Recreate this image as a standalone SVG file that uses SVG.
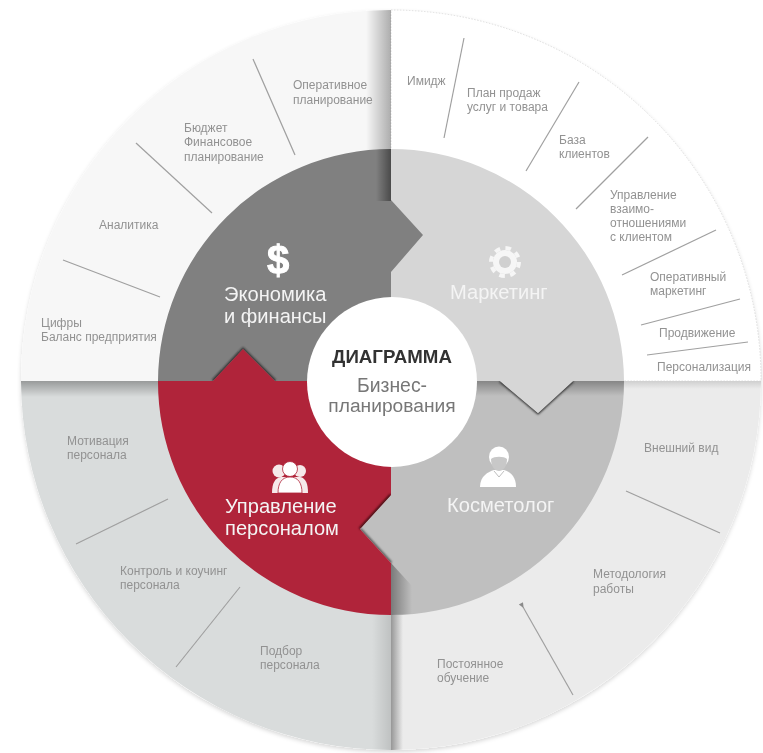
<svg xmlns="http://www.w3.org/2000/svg" width="763" height="753" viewBox="0 0 763 753">
<style>
text{font-family:"Liberation Sans",Arial,sans-serif}
.s{font-size:12px;fill:#929292;filter:url(#soft)}
.b{font-size:20.1px;fill:#f4f4f4;filter:url(#soft)}
.c{stroke:#a0a0a0;stroke-width:1.2;fill:none;filter:url(#soft)}
</style>
<defs>
<filter id="soft" x="-10%" y="-20%" width="120%" height="140%"><feGaussianBlur stdDeviation="0.5"/></filter>
<filter id="blur1" x="-30%" y="-30%" width="160%" height="160%"><feGaussianBlur stdDeviation="1.1"/></filter>
<filter id="disc" x="-5%" y="-5%" width="110%" height="110%"><feDropShadow dx="0" dy="2" stdDeviation="2" flood-color="#000" flood-opacity=".16"/></filter>
<linearGradient id="toR" x1="0" x2="1" y1="0" y2="0"><stop offset="0" stop-color="#000" stop-opacity="0"/><stop offset="1" stop-color="#000" stop-opacity=".3"/></linearGradient>
<linearGradient id="toD" x1="0" x2="1" y1="0" y2="0"><stop offset="0" stop-color="#000" stop-opacity="0"/><stop offset="1" stop-color="#000" stop-opacity=".42"/></linearGradient>
<linearGradient id="toRs" x1="0" x2="1" y1="0" y2="0"><stop offset="0" stop-color="#000" stop-opacity="0"/><stop offset="1" stop-color="#000" stop-opacity=".12"/></linearGradient>
<linearGradient id="fromL" x1="0" x2="1" y1="0" y2="0"><stop offset="0" stop-color="#000" stop-opacity=".36"/><stop offset="1" stop-color="#000" stop-opacity="0"/></linearGradient>
<linearGradient id="fromT" x1="0" x2="0" y1="0" y2="1"><stop offset="0" stop-color="#000" stop-opacity=".3"/><stop offset="1" stop-color="#000" stop-opacity="0"/></linearGradient>
<marker id="tip" markerWidth="5" markerHeight="5" refX="1" refY="2.5" orient="auto-start-reverse"><path d="M0 2.5L4.5 0.5V4.5Z" fill="#8a8a8a"/></marker>
<clipPath id="qTL"><path d="M21 381A370 370 0 0 1 391 10V381Z"/></clipPath>
<clipPath id="qBL"><path d="M21 381H391V750A370 370 0 0 1 21 381Z"/></clipPath>
<clipPath id="qBR"><path d="M391 381H761A370 370 0 0 1 391 750Z"/></clipPath>
<clipPath id="iDark"><path d="M158 381A233 233 0 0 1 391 149V200L423 235L391 272V381H275L243 349L213 381Z"/></clipPath>
<clipPath id="iCos"><path d="M624 381A233 233 0 0 1 391 615V563L360 529L391 495V381H500L538 413L573 381Z"/></clipPath>
<clipPath id="iRed"><path d="M391 615A233 233 0 0 1 158 381H213L243 349L275 381H391V495L360 529L391 563Z"/></clipPath>
</defs>

<g id="outer-ring">
<circle cx="391" cy="380" r="370" fill="#fff" filter="url(#disc)"/>
<path d="M21 381A370 370 0 0 1 391 10V381Z" fill="#f7f7f7"/>
<path d="M391 10A370 370 0 0 1 761 381H391Z" fill="#fff" stroke="#d6d6d6" stroke-width=".8" stroke-dasharray="1.5 1.5"/>
<path d="M761 381A370 370 0 0 1 391 750V381Z" fill="#ebebeb"/>
<path d="M391 750A370 370 0 0 1 21 381H391Z" fill="#d9dcdc"/>
<g clip-path="url(#qTL)"><rect x="366" y="10" width="25" height="140" fill="url(#toR)"/></g>
<g clip-path="url(#qBL)"><rect x="21" y="381" width="140" height="16" fill="url(#fromT)"/><rect x="372" y="615" width="19" height="135" fill="url(#toRs)"/></g>
<g clip-path="url(#qBR)"><rect x="391" y="615" width="12" height="135" fill="url(#fromL)"/><rect x="624" y="381" width="140" height="8" fill="url(#fromT)" opacity=".4"/></g>
</g>

<g id="connectors">
<path class="c" d="M253 59L295 155"/>
<path class="c" d="M136 143L212 213"/>
<path class="c" d="M63 260L160 297"/>
<path class="c" d="M464 38L444 138"/>
<path class="c" d="M579 82L526 171"/>
<path class="c" d="M648 137L576 209"/>
<path class="c" d="M716 230L622 275"/>
<path class="c" d="M740 299L641 325"/>
<path class="c" d="M748 342L647 355"/>
<path class="c" d="M168 499L76 544"/>
<path class="c" d="M240 587L176 667"/>
<path class="c" d="M626 491L720 533"/>
<path class="c" d="M573 695L523 607" marker-end="url(#tip)"/>
</g>

<g id="labels">
<text class="s" x="293" y="89">Оперативное</text><text class="s" x="293" y="104">планирование</text>
<text class="s" x="184" y="132">Бюджет</text><text class="s" x="184" y="146">Финансовое</text><text class="s" x="184" y="161">планирование</text>
<text class="s" x="99" y="229">Аналитика</text>
<text class="s" x="41" y="327">Цифры</text><text class="s" x="41" y="341">Баланс предприятия</text>
<text class="s" x="407" y="85">Имидж</text>
<text class="s" x="467" y="97">План продаж</text><text class="s" x="467" y="111">услуг и товара</text>
<text class="s" x="559" y="144">База</text><text class="s" x="559" y="158">клиентов</text>
<text class="s" x="610" y="199">Управление</text><text class="s" x="610" y="213">взаимо-</text><text class="s" x="610" y="227">отношениями</text><text class="s" x="610" y="241">с клиентом</text>
<text class="s" x="650" y="281">Оперативный</text><text class="s" x="650" y="295">маркетинг</text>
<text class="s" x="659" y="337">Продвижение</text>
<text class="s" x="657" y="371">Персонализация</text>
<text class="s" x="644" y="452">Внешний вид</text>
<text class="s" x="593" y="578">Методология</text><text class="s" x="593" y="593">работы</text>
<text class="s" x="437" y="668">Постоянное</text><text class="s" x="437" y="682">обучение</text>
<text class="s" x="67" y="445">Мотивация</text><text class="s" x="67" y="459">персонала</text>
<text class="s" x="120" y="575">Контроль и коучинг</text><text class="s" x="120" y="589">персонала</text>
<text class="s" x="260" y="655">Подбор</text><text class="s" x="260" y="669">персонала</text>
</g>

<g id="node-cosmetolog">
<path d="M624 381A233 233 0 0 1 391 615V563L360 529L391 495V381Z" fill="#bfbfbf"/>
<g clip-path="url(#iCos)">
<rect x="391" y="381" width="233" height="15" fill="url(#fromT)"/>
<path d="M391 563L412 586V617H391Z" fill="url(#fromL)"/>
<path d="M500 381L538 413L573 381" fill="none" stroke="#333" stroke-width="2.6" filter="url(#blur1)"/>
<path d="M360 529L391 563" fill="none" stroke="#555" stroke-width="3" filter="url(#blur1)"/>
</g>
<g filter="url(#soft)">
<ellipse cx="499" cy="457" rx="10" ry="10.5" fill="#fff"/>
<path d="M480 487C480 476 488 472 494 470H504C510 472 516 476 516 487Z" fill="#fff"/>
</g>
<path d="M491 459C494 456 504 456 507 459C507 467 503 471 499 471C495 471 491 467 491 459Z" fill="#c8c8c8"/>
<path d="M494 471L499 477L504 471" fill="none" stroke="#bfbfbf" stroke-width="1"/>
<text class="b" x="447" y="512">Косметолог</text>
</g>

<g id="node-marketing">
<path d="M391 149A233 233 0 0 1 624 381H573L538 413L500 381H391Z" fill="#d6d6d6"/>
<g filter="url(#soft)">
<circle cx="505" cy="262" r="12" fill="#f6f6f6"/>
<circle cx="505" cy="262" r="14" fill="none" stroke="#f6f6f6" stroke-width="4" stroke-dasharray="5.6 5.4"/>
<circle cx="505" cy="262" r="6" fill="#d0d0d0"/>
</g>
<text class="b" x="450" y="299">Маркетинг</text>
</g>

<g id="node-economy">
<path d="M158 381A233 233 0 0 1 391 149V200L423 235L391 272V381Z" fill="#808080"/>
<g clip-path="url(#iDark)">
<rect x="376" y="149" width="15" height="52" fill="url(#toD)"/>
<path d="M213 381L243 349L275 381" fill="none" stroke="#222" stroke-width="2.6" filter="url(#blur1)"/>
</g>
<text x="267" y="274" font-size="40" font-weight="700" fill="#fff" stroke="#fff" stroke-width="1" filter="url(#soft)">$</text>
<text class="b" x="224" y="301">Экономика</text>
<text class="b" x="224" y="323">и финансы</text>
</g>

<g id="node-personnel">
<path d="M391 615A233 233 0 0 1 158 381H213L243 349L275 381H391V495L360 529L391 563Z" fill="#b0243a"/>
<g clip-path="url(#iRed)">
<path d="M391 495L360 529" fill="none" stroke="#3a0a12" stroke-width="3" filter="url(#blur1)"/>
</g>
<g filter="url(#soft)">
<circle cx="279" cy="471" r="6.5" fill="#f6e9ea"/><circle cx="300" cy="471" r="6" fill="#f6e9ea"/>
<path d="M272 493C272 483 275 478 281 477H300C306 478 308 484 308 493Z" fill="#f6e9ea"/>
<circle cx="290" cy="469" r="7.5" fill="#fff" stroke="#b0243a" stroke-width=".8"/>
<path d="M278 493C278 483 282 477 290 477C298 477 302 483 302 493Z" fill="#fff" stroke="#b0243a" stroke-width=".8"/>
</g>
<text class="b" x="225" y="513">Управление</text>
<text class="b" x="225" y="535">персоналом</text>
</g>

<g id="node-center">
<circle cx="392" cy="382" r="85" fill="#fff"/>
<text x="392" y="363" text-anchor="middle" font-size="18.7" font-weight="700" fill="#333" filter="url(#soft)">ДИАГРАММА</text>
<text x="392" y="392" text-anchor="middle" font-size="19.4" fill="#777" filter="url(#soft)">Бизнес-</text>
<text x="392" y="412" text-anchor="middle" font-size="19.2" fill="#777" filter="url(#soft)">планирования</text>
</g>
</svg>
